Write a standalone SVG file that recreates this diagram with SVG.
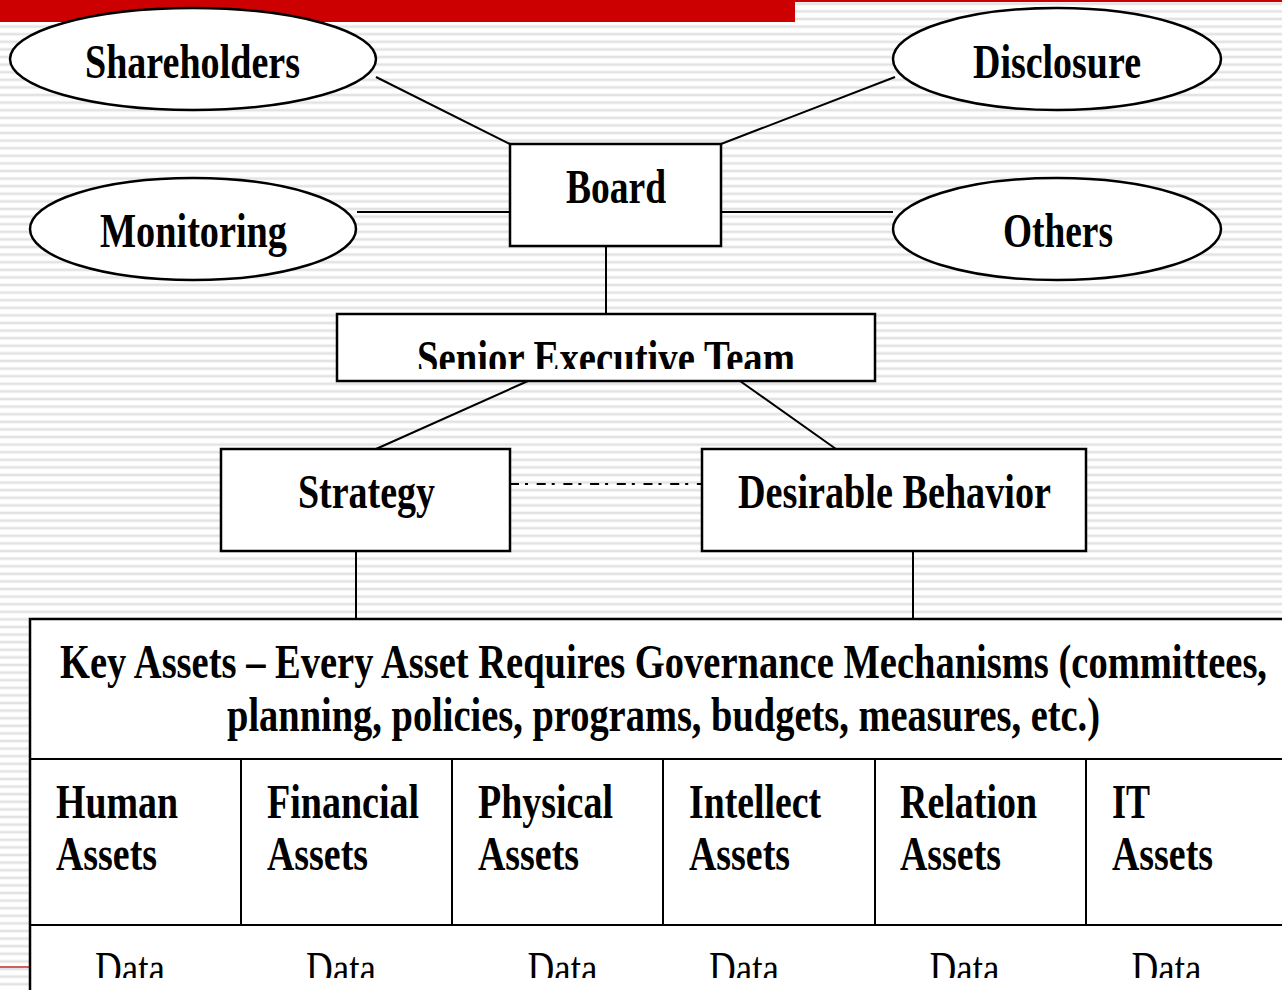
<svg xmlns="http://www.w3.org/2000/svg" width="1282" height="990" viewBox="0 0 1282 990">
<defs>
<style>
.shape{fill:#ffffff;stroke:#000000;stroke-width:2.5}
.conn{stroke:#000000;stroke-width:2;fill:none}
.t{font-family:"Liberation Serif","Times New Roman",serif;font-weight:bold;font-size:49px;fill:#000000}
.tc{text-anchor:middle}
.d{font-family:"Liberation Serif","Times New Roman",serif;font-weight:normal;font-size:49px;fill:#000000;text-anchor:middle}
</style>
<pattern id="stripes" x="0" y="0" width="16" height="7.6" patternUnits="userSpaceOnUse">
<rect x="0" y="0" width="16" height="7.6" fill="#ffffff"/>
<rect x="0" y="2.5" width="16" height="2.6" fill="#e3e3e3"/>
</pattern>
<clipPath id="clipSet"><rect x="337" y="314" width="538" height="55"/></clipPath>
<clipPath id="clipData"><rect x="30" y="925" width="1266" height="53"/></clipPath>
</defs>

<g id="background">
<rect x="0" y="0" width="1282" height="990" fill="url(#stripes)"/>
<rect x="0" y="0" width="1282" height="2" fill="#cc0000"/>
<rect x="0" y="0" width="795" height="22" fill="#cc0000"/>
<rect x="0" y="966" width="30" height="2" fill="#d06060"/>
</g>

<g id="connectors">
<line class="conn" x1="376" y1="77" x2="510" y2="144"/>
<line class="conn" x1="895" y1="77" x2="721" y2="144"/>
<line class="conn" x1="357" y1="212" x2="510" y2="212"/>
<line class="conn" x1="721" y1="212" x2="893" y2="212"/>
<line class="conn" x1="606" y1="246" x2="606" y2="314"/>
<line class="conn" x1="528" y1="381" x2="376" y2="449"/>
<line class="conn" x1="740" y1="381" x2="836" y2="449"/>
<line class="conn" x1="510" y1="484" x2="702" y2="484" stroke-dasharray="9 6 3 8.7"/>
<line class="conn" x1="356" y1="551" x2="356" y2="619"/>
<line class="conn" x1="913" y1="551" x2="913" y2="619"/>
</g>

<g id="shareholders">
<ellipse class="shape" cx="193" cy="59" rx="183" ry="51"/>
<text class="t tc" x="192.5" y="78" textLength="215" lengthAdjust="spacingAndGlyphs">Shareholders</text>
</g>
<g id="disclosure">
<ellipse class="shape" cx="1057" cy="59" rx="164" ry="51"/>
<text class="t tc" x="1057" y="78" textLength="168" lengthAdjust="spacingAndGlyphs">Disclosure</text>
</g>
<g id="monitoring">
<ellipse class="shape" cx="193" cy="229" rx="163" ry="51"/>
<text class="t tc" x="193.5" y="247" textLength="187" lengthAdjust="spacingAndGlyphs">Monitoring</text>
</g>
<g id="others">
<ellipse class="shape" cx="1057" cy="229" rx="164" ry="51"/>
<text class="t tc" x="1058" y="247" textLength="110" lengthAdjust="spacingAndGlyphs">Others</text>
</g>
<g id="board">
<rect class="shape" x="510" y="144" width="211" height="102"/>
<text class="t tc" x="616" y="203" textLength="100" lengthAdjust="spacingAndGlyphs">Board</text>
</g>
<g id="senior-executive-team">
<rect class="shape" x="337" y="314" width="538" height="67"/>
<text class="t tc" x="606" y="374" textLength="378" lengthAdjust="spacingAndGlyphs" clip-path="url(#clipSet)">Senior Executive Team</text>
</g>
<g id="strategy">
<rect class="shape" x="221" y="449" width="289" height="102"/>
<text class="t tc" x="366.5" y="508" textLength="137" lengthAdjust="spacingAndGlyphs">Strategy</text>
</g>
<g id="desirable-behavior">
<rect class="shape" x="702" y="449" width="384" height="102"/>
<text class="t tc" x="894.5" y="508" textLength="313" lengthAdjust="spacingAndGlyphs">Desirable Behavior</text>
</g>

<g id="key-assets">
<rect class="shape" x="30" y="619" width="1266" height="400"/>
<line class="conn" x1="30" y1="759" x2="1296" y2="759" stroke-width="2.5"/>
<line class="conn" x1="30" y1="925" x2="1296" y2="925" stroke-width="2.5"/>
<line class="conn" x1="241" y1="759" x2="241" y2="925" stroke-width="2.5"/>
<line class="conn" x1="452" y1="759" x2="452" y2="925" stroke-width="2.5"/>
<line class="conn" x1="663" y1="759" x2="663" y2="925" stroke-width="2.5"/>
<line class="conn" x1="875" y1="759" x2="875" y2="925" stroke-width="2.5"/>
<line class="conn" x1="1086" y1="759" x2="1086" y2="925" stroke-width="2.5"/>
<text class="t tc" x="663.5" y="678" textLength="1207" lengthAdjust="spacingAndGlyphs">Key Assets – Every Asset Requires Governance Mechanisms (committees,</text>
<text class="t tc" x="663.5" y="731" textLength="873" lengthAdjust="spacingAndGlyphs">planning, policies, programs, budgets, measures, etc.)</text>
</g>

<g id="human-assets">
<text class="t" x="56" y="818" textLength="122" lengthAdjust="spacingAndGlyphs">Human</text>
<text class="t" x="56" y="870" textLength="101" lengthAdjust="spacingAndGlyphs">Assets</text>
</g>
<g id="financial-assets">
<text class="t" x="267" y="818" textLength="152" lengthAdjust="spacingAndGlyphs">Financial</text>
<text class="t" x="267" y="870" textLength="101" lengthAdjust="spacingAndGlyphs">Assets</text>
</g>
<g id="physical-assets">
<text class="t" x="478" y="818" textLength="135" lengthAdjust="spacingAndGlyphs">Physical</text>
<text class="t" x="478" y="870" textLength="101" lengthAdjust="spacingAndGlyphs">Assets</text>
</g>
<g id="intellect-assets">
<text class="t" x="689" y="818" textLength="132" lengthAdjust="spacingAndGlyphs">Intellect</text>
<text class="t" x="689" y="870" textLength="101" lengthAdjust="spacingAndGlyphs">Assets</text>
</g>
<g id="relation-assets">
<text class="t" x="900" y="818" textLength="137" lengthAdjust="spacingAndGlyphs">Relation</text>
<text class="t" x="900" y="870" textLength="101" lengthAdjust="spacingAndGlyphs">Assets</text>
</g>
<g id="it-assets">
<text class="t" x="1112" y="818" textLength="38" lengthAdjust="spacingAndGlyphs">IT</text>
<text class="t" x="1112" y="870" textLength="101" lengthAdjust="spacingAndGlyphs">Assets</text>
</g>

<g id="data-row" clip-path="url(#clipData)">
<text class="d" x="130" y="985" textLength="70" lengthAdjust="spacingAndGlyphs">Data</text>
<text class="d" x="341" y="985" textLength="70" lengthAdjust="spacingAndGlyphs">Data</text>
<text class="d" x="562.5" y="985" textLength="70" lengthAdjust="spacingAndGlyphs">Data</text>
<text class="d" x="744" y="985" textLength="70" lengthAdjust="spacingAndGlyphs">Data</text>
<text class="d" x="964.5" y="985" textLength="70" lengthAdjust="spacingAndGlyphs">Data</text>
<text class="d" x="1166.5" y="985" textLength="70" lengthAdjust="spacingAndGlyphs">Data</text>
</g>
</svg>
